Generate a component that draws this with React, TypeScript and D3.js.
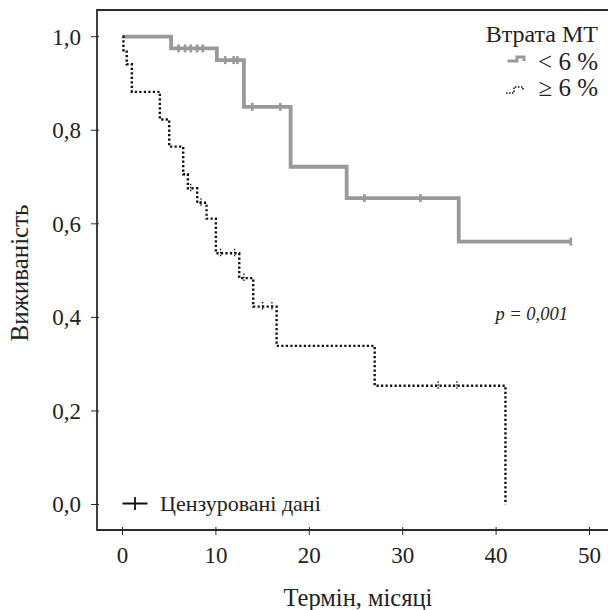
import React from 'react';
import * as d3 from 'd3';

const xTicks = [0, 10, 20, 30, 40, 50];
const yTicks = [0, 0.2, 0.4, 0.6, 0.8, 1.0];

// weight loss < 6 %
const lowTimes = [0, 5.2, 10.1, 13, 18, 24, 36, 48];
const lowSurv = [1.0, 0.975, 0.95, 0.85, 0.722, 0.655, 0.562, 0.562];
const lowCensored = [6.0, 6.7, 7.3, 8.0, 8.6, 11.0, 11.9, 12.3, 13.9, 16.9, 25.9, 31.9, 48];

// weight loss >= 6 %
const highTimes = [0, 0.1, 0.45, 1, 4, 5, 6.5, 7, 8, 9, 10, 12.5, 14, 16.5, 27, 41];
const highSurv = [1.0, 0.971, 0.941, 0.882, 0.823, 0.765, 0.706, 0.676, 0.645, 0.611,
  0.537, 0.484, 0.423, 0.339, 0.254, 0];
const highCensored = [7.3, 8.4, 10.5, 12.0, 13.0, 15.0, 16.0, 33.8, 35.8];

const legendTitle = 'Втрата МТ';
const legendLabels = ['< 6 %', '≥ 6 %'];

function survAt(times: number[], surv: number[], t: number) {
  let s = surv[0];
  times.forEach((ti, i) => {
    if (ti <= t) s = surv[i];
  });
  return s;
}

export default class App extends React.Component {
  svgRef = React.createRef<SVGSVGElement>();

  componentDidMount(): void {
    this.drawChart();
  }

  render() {
    return (
      <svg ref={this.svgRef} width={608} height={610}
        style={{position: 'absolute', left: 0, top: 0, background: '#fff'}} />
    );
  }

  drawChart() {
    const svg = d3.select(this.svgRef.current);
    svg.selectAll('*').remove();
    const font = 'Liberation Serif';
    const axisColor = '#2b2b2b';
    const grey = '#98999d';

    const frame = {left: 97, top: 10, bottom: 530, right: 630};

    const x = d3.scaleLinear().domain([0, 50]).range([122.5, 589.5]);
    const y = d3.scaleLinear().domain([0, 1]).range([504.5, 36.7]);
    const fmt = (v: number) => d3.format('.1f')(v).replace('.', ',');

    const label = (tx: number, ty: number, str: string, size: number, anchor = 'start') =>
      svg.append('text')
          .attr('x', tx).attr('y', ty)
          .attr('text-anchor', anchor)
          .attr('font-family', font)
          .attr('font-size', size)
          .attr('fill', '#222')
          .text(str);

    // frame (open on the right, cropped)
    svg.append('path')
        .attr('d', `M${frame.right},${frame.top}H${frame.left}V${frame.bottom}H${frame.right}`)
        .attr('fill', 'none')
        .attr('stroke', axisColor)
        .attr('stroke-width', 1.8);

    // y ticks
    yTicks.forEach((v) => {
      svg.append('line')
          .attr('x1', frame.left - 6).attr('x2', frame.left + 2)
          .attr('y1', y(v)).attr('y2', y(v))
          .attr('stroke', axisColor).attr('stroke-width', 1);
      label(81, y(v), fmt(v), 23, 'end').attr('dy', '0.34em');
    });

    // x ticks
    xTicks.forEach((v) => {
      svg.append('line')
          .attr('x1', x(v)).attr('x2', x(v))
          .attr('y1', frame.bottom - 3).attr('y2', frame.bottom + 5)
          .attr('stroke', axisColor).attr('stroke-width', 1);
      label(x(v), 563, String(v), 23, 'middle');
    });

    // axis titles
    label(358, 606, 'Термін, місяці', 24.5, 'middle');
    label(0, 0, 'Виживаність', 25, 'middle')
        .attr('transform', 'translate(28,273) rotate(-90)');

    const line = d3.line<[number, number]>()
        .x((d) => x(d[0]))
        .y((d) => y(d[1]))
        .curve(d3.curveStepAfter);

    // < 6 % curve
    const lowData = lowTimes.map((t, i) => [t, lowSurv[i]] as [number, number]);
    svg.append('path')
        .attr('d', line(lowData))
        .attr('fill', 'none')
        .attr('stroke', grey)
        .attr('stroke-width', 3.8);
    lowCensored.forEach((t) => {
      const s = survAt(lowTimes, lowSurv, t);
      svg.append('line')
          .attr('x1', x(t)).attr('x2', x(t))
          .attr('y1', y(s) - 4).attr('y2', y(s) + 4)
          .attr('stroke', grey).attr('stroke-width', 2.6);
    });

    // >= 6 % curve
    const highData = highTimes.map((t, i) => [t, highSurv[i]] as [number, number]);
    svg.append('path')
        .attr('d', line(highData))
        .attr('fill', 'none')
        .attr('stroke', '#111')
        .attr('stroke-width', 2.4)
        .attr('stroke-dasharray', '2.2,2.3');
    highCensored.forEach((t) => {
      const s = survAt(highTimes, highSurv, t);
      svg.append('line')
          .attr('x1', x(t)).attr('x2', x(t))
          .attr('y1', y(s) - 4.5).attr('y2', y(s) + 4.5)
          .attr('stroke', '#111').attr('stroke-width', 1.3)
          .attr('stroke-dasharray', '1.5,1.5');
    });

    // legend
    label(598, 41.5, legendTitle, 24, 'end');
    legendLabels.forEach((lab, i) => {
      label(598, 70 + i * 26, lab, 25, 'end');
    });
    svg.append('path')
        .attr('d', 'M507.5,61H517V57H524V61')
        .attr('fill', 'none')
        .attr('stroke', grey)
        .attr('stroke-width', 3);
    svg.append('path')
        .attr('d', 'M506,93H514V87H523V91')
        .attr('fill', 'none')
        .attr('stroke', '#111')
        .attr('stroke-width', 1.6)
        .attr('stroke-dasharray', '1.5,1.5');

    // p value
    label(568, 320, 'p = 0,001', 18.5, 'end').attr('font-style', 'italic');

    // censored legend
    svg.append('path')
        .attr('d', 'M122.5,503.5H147.5M135,497V510')
        .attr('stroke', '#111')
        .attr('stroke-width', 1.8);
    label(160, 511, 'Цензуровані дані', 22);
  }
}
